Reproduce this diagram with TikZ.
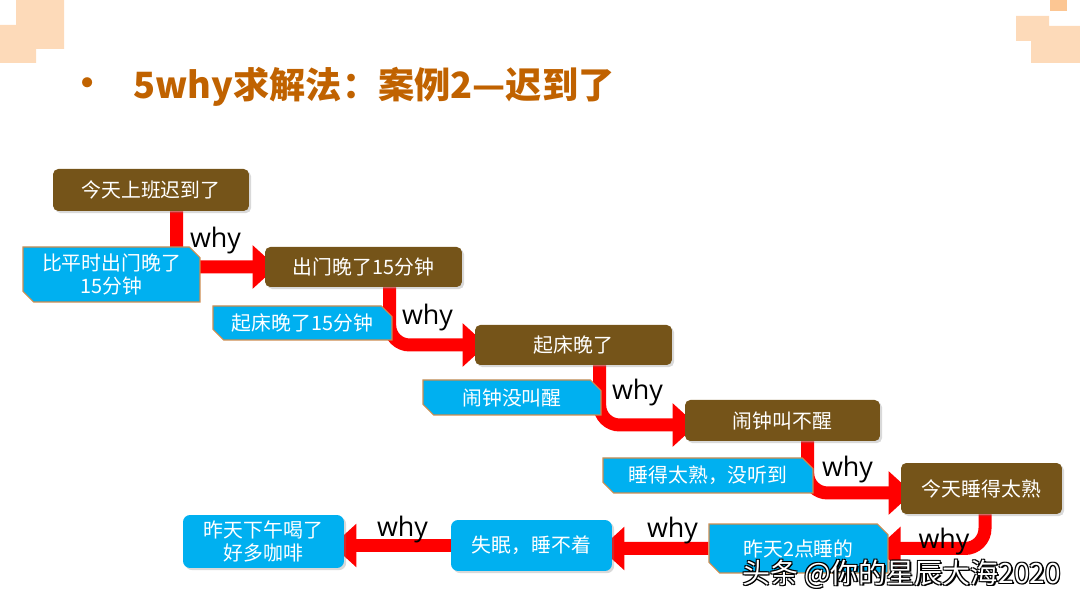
\documentclass[tikz,border=0pt]{standalone}
\usepackage{fontspec}
\setmainfont{Noto Sans CJK SC}
\newfontfamily\whyfont{Open Sans}
\usetikzlibrary{arrows.meta,shapes.misc,shadows,backgrounds}
\definecolor{causebrown}{RGB}{117,84,25}
\definecolor{noteblue}{RGB}{0,176,240}
\definecolor{noteedge}{RGB}{204,140,80}
\definecolor{titleorange}{RGB}{192,98,0}
\definecolor{deco}{RGB}{251,188,128}

\begin{document}
\begin{tikzpicture}[x=0.02cm, y=-0.02cm,
  every node/.style={font=\fontsize{11.3pt}{13.6pt}\selectfont, text=white,
    inner sep=0pt, align=center},
  cause/.style={fill=causebrown, rounded corners=3pt,
    drop shadow={opacity=0.3, shadow xshift=1.2pt, shadow yshift=-1.2pt}},
  note/.style={chamfered rectangle, chamfered rectangle corners={north east, south west},
    chamfered rectangle xsep=2.5pt, chamfered rectangle ysep=3.5pt,
    fill=noteblue, draw=noteedge, line width=0.6pt},
  rnote/.style={fill=noteblue, rounded corners=4pt,
    drop shadow={opacity=0.3, shadow xshift=1.2pt, shadow yshift=-1.2pt}},
  why/.style={font=\whyfont\fontsize{15.3pt}{17pt}\selectfont, text=black},
  whyarrow/.style={red, line width=0.26cm, rounded corners=0.4cm,
    shorten >=-0.24cm, -{Triangle[length=0.48cm, width=0.84cm]}}]
\useasboundingbox (0,0) rectangle (1080,607);
% corner squares
\fill[deco, opacity=0.55] (16,0) rectangle (64,49) (0,25) rectangle (36,63);
\fill[deco, opacity=0.55] (1016,16) rectangle (1049,41) (1031,26) rectangle (1080,63);
\fill[deco, opacity=0.85] (1050,0) rectangle (1067,11);
% title
\node[text=titleorange, font=\bfseries\fontsize{20.6pt}{24pt}\selectfont] (Tb) at (88,87) {•};
\node[anchor=west, text=titleorange, font=\bfseries\fontsize{20.6pt}{24pt}\selectfont]
  (T) at (133,87) {5why求解法：案例2—迟到了};
% causes
\node[cause, minimum width=3.92cm, minimum height=0.84cm] (A) at (151,190) {今天上班迟到了};
\node[cause, minimum width=3.94cm, minimum height=0.80cm] (B) at (363.5,267) {出门晚了15分钟};
\node[cause, minimum width=3.94cm, minimum height=0.80cm] (C) at (573.5,345) {起床晚了};
\node[cause, minimum width=3.90cm, minimum height=0.82cm] (D) at (782.5,420.5) {闹钟叫不醒};
\node[cause, minimum width=3.22cm, minimum height=1.02cm] (E) at (981.5,488.5) {今天睡得太熟};
% answers
\node[note, minimum width=3.54cm, minimum height=1.10cm] (A1) at (111.5,274.5) {比平时出门晚了\\15分钟};
\node[note, minimum width=3.58cm, minimum height=0.68cm] (B1) at (302.5,323) {起床晚了15分钟};
\node[note, minimum width=3.56cm, minimum height=0.70cm] (C1) at (512,397.5) {闹钟没叫醒};
\node[note, minimum width=4.20cm, minimum height=0.70cm] (D1) at (708,475.5) {睡得太熟，没听到};
\node[note, minimum width=3.58cm, minimum height=0.98cm] (E1) at (798.5,548.5) {昨天2点睡的};
\node[rnote, minimum width=3.22cm, minimum height=1.02cm] (F) at (531.5,545.5) {失眠，睡不着};
\node[rnote, minimum width=3.22cm, minimum height=1.06cm] (G) at (263.5,541.5) {昨天下午喝了\\好多咖啡};
% why labels
\node[why] (w1) at (215.5,241) {why};
\node[why] (w2) at (427.5,318) {why};
\node[why] (w3) at (637.5,393) {why};
\node[why] (w4) at (847.5,470) {why};
\node[why] (w5) at (944,542) {why};
\node[why] (w6) at (672.5,531) {why};
\node[why] (w7) at (402.5,530) {why};
% arrows
\begin{pgfonlayer}{background}
\draw[whyarrow] ([xshift=2.48cm]A.south west) |- (B.west);
\draw[whyarrow] ([xshift=2.5cm]B.south west) |- (C.west);
\draw[whyarrow] ([xshift=2.5cm]C.south west) |- ([yshift=-0.09cm]D.west);
\draw[whyarrow] ([xshift=2.46cm]D.south west) |- ([yshift=-0.09cm]E.west);
\draw[whyarrow] ([xshift=0.07cm]E.south) |- (E1.east);
\draw[whyarrow] (E1) -- (E1 -| F.east);
\draw[whyarrow] (F) -- (F -| G.east);
\end{pgfonlayer}
% watermark
\foreach \dx/\dy [count=\i] in {1/1,-1/1,1/-1,-1/-1,1.5/1.5}
  \node[anchor=west, text=black, font=\fontsize{15.9pt}{18pt}\selectfont]
    (Ws\i) at (742+\dx,574+\dy) {头条 @你的星辰大海2020};
\node[anchor=west, font=\fontsize{15.9pt}{18pt}\selectfont] (W) at (742,574) {头条 @你的星辰大海2020};
\end{tikzpicture}
\end{document}
